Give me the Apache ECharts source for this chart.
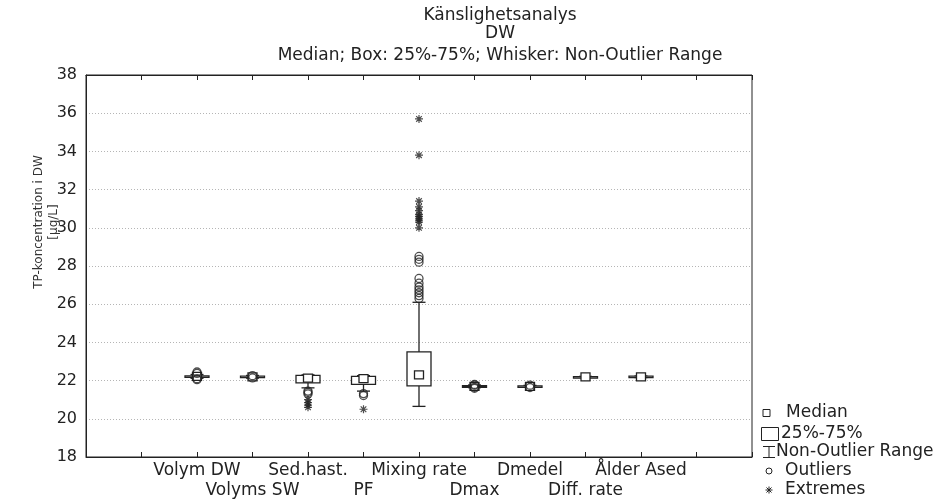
<!DOCTYPE html>
<html>
<head>
<meta charset="utf-8">
<script src="https://cdn.jsdelivr.net/npm/echarts@6/dist/echarts.min.js"></script>
<style>
html,body{margin:0;padding:0;background:#fff;}
#chart{width:942px;height:501px;}
</style>
</head>
<body>
<div id="chart"></div>
<script>
// ---- data ----
const categories = ['Volym DW','Volyms SW','Sed.hast.','PF','Mixing rate','Dmax','Dmedel','Diff. rate','Ålder Ased'];
const medians     = [22.22, 22.20, 22.13, 22.10, 22.30, 21.70, 21.70, 22.20, 22.20];
const q1          = [22.19, 22.17, 21.88, 21.80, 21.72, 21.67, 21.68, 22.19, 22.17];
const q3          = [22.25, 22.23, 22.27, 22.22, 23.50, 21.73, 21.72, 22.21, 22.23];
const whiskerLow  = [22.12, 22.13, 21.62, 21.45, 20.65, 21.63, 21.65, 22.18, 22.16];
const whiskerHigh = [22.32, 22.27, 22.30, 22.26, 26.10, 21.77, 21.75, 22.22, 22.24];
const outliers = [
  [22.05, 22.10, 22.38, 22.45],
  [22.14, 22.26],
  [21.30, 21.38, 21.45],
  [21.22, 21.32],
  [26.30, 26.45, 26.60, 26.75, 26.90, 27.10, 27.35, 28.20, 28.35, 28.50],
  [21.60, 21.65, 21.76, 21.80],
  [21.64, 21.76],
  [],
  []
];
const extremes = [
  [],
  [],
  [20.60, 20.72, 20.85, 21.00],
  [20.50],
  [30.00, 30.30, 30.40, 30.50, 30.60, 30.70, 30.90, 31.10, 31.40, 33.80, 35.70],
  [],
  [],
  [],
  []
];
const yTicks = {min: 18, max: 38, interval: 2};
const titleLines = ['Känslighetsanalys', 'DW', 'Median; Box: 25%-75%; Whisker: Non-Outlier Range'];
const yName = ['TP-koncentration i DW', '[µg/L]'];
const legendItems = ['Median', '25%-75%', 'Non-Outlier Range', 'Outliers', 'Extremes'];

// ---- build ----
const PAD = 2;
const axisCats = ['', ''].concat(categories, ['', '']);
const boxData = categories.map((c, i) => [i + PAD, whiskerLow[i], q1[i], medians[i], q3[i], whiskerHigh[i]]);
const outData = [], extData = [];
categories.forEach((c, i) => {
  outliers[i].forEach(v => outData.push([i + PAD, v]));
  extremes[i].forEach(v => extData.push([i + PAD, v]));
});

const FONT = 'DejaVu Sans';
const INK = '#222';
const asteriskPath = 'path://M5,0L5,10M0,5L10,5M1.5,1.5L8.5,8.5M8.5,1.5L1.5,8.5';

function renderBox(params, api) {
  const x = api.value(0);
  const pLo = api.coord([x, api.value(1)]);
  const pQ1 = api.coord([x, api.value(2)]);
  const pMed = api.coord([x, api.value(3)]);
  const pQ3 = api.coord([x, api.value(4)]);
  const pHi = api.coord([x, api.value(5)]);
  const cx = pMed[0];
  const bw = 24, cw = 13;
  const ls = {stroke: INK, lineWidth: 1.3};
  const boxH = Math.max(pQ1[1] - pQ3[1], 1.5);
  return {
    type: 'group',
    children: [
      {type: 'line', shape: {x1: cx, y1: pLo[1], x2: cx, y2: pHi[1]}, style: ls},
      {type: 'line', shape: {x1: cx - cw / 2, y1: pLo[1], x2: cx + cw / 2, y2: pLo[1]}, style: ls},
      {type: 'line', shape: {x1: cx - cw / 2, y1: pHi[1], x2: cx + cw / 2, y2: pHi[1]}, style: ls},
      {type: 'rect', shape: {x: cx - bw / 2, y: pQ3[1], width: bw, height: boxH}, style: {fill: '#fff', stroke: INK, lineWidth: 1.3}},
      {type: 'rect', shape: {x: cx - 4.5, y: pMed[1] - 4, width: 9, height: 8}, style: {fill: '#fff', stroke: INK, lineWidth: 1.3}}
    ]
  };
}

// legend graphics
const lgX = 768;
const lgRows = [413, 434, 452, 471, 490];
const lgTextX = [786, 781, 776, 785, 785];
const gl = (x1, y1, x2, y2) => ({type: 'line', shape: {x1, y1, x2, y2}, style: {stroke: INK, lineWidth: 1}});
const legendGraphics = [
  {type: 'rect', shape: {x: lgX - 5, y: lgRows[0] - 3.5, width: 7, height: 7}, style: {fill: '#fff', stroke: INK, lineWidth: 1}},
  {type: 'rect', shape: {x: lgX - 6.5, y: lgRows[1] - 6.5, width: 17, height: 13}, style: {fill: '#fff', stroke: INK, lineWidth: 1}},
  gl(lgX + 1, lgRows[2] - 5.5, lgX + 1, lgRows[2] + 5.5),
  gl(lgX - 5, lgRows[2] - 5.5, lgX + 7, lgRows[2] - 5.5),
  gl(lgX - 5, lgRows[2] + 5.5, lgX + 7, lgRows[2] + 5.5),
  {type: 'circle', shape: {cx: lgX + 1, cy: lgRows[3], r: 3}, style: {fill: 'none', stroke: INK, lineWidth: 1}},
  gl(lgX + 1, lgRows[4] - 3.5, lgX + 1, lgRows[4] + 3.5),
  gl(lgX - 2.5, lgRows[4], lgX + 4.5, lgRows[4]),
  gl(lgX - 1.5, lgRows[4] - 2.5, lgX + 3.5, lgRows[4] + 2.5),
  gl(lgX + 3.5, lgRows[4] - 2.5, lgX - 1.5, lgRows[4] + 2.5)
];
legendItems.forEach((t, i) => {
  legendGraphics.push({type: 'text', x: lgTextX[i], y: lgRows[i], style: {text: t, font: '17px "' + FONT + '"', fill: INK, textVerticalAlign: 'middle', textAlign: 'left'}});
});
// title
const titleY = [16, 34, 56];
titleLines.forEach((t, i) => {
  legendGraphics.push({type: 'text', x: 500, y: titleY[i], style: {text: t, font: '17px "' + FONT + '"', fill: INK, textAlign: 'center', textVerticalAlign: 'middle'}});
});
// y axis name
legendGraphics.push({type: 'text', x: 46, y: 222, rotation: Math.PI / 2, style: {text: yName.join('\n'), font: '12px "' + FONT + '"', fill: '#333', textAlign: 'center', textVerticalAlign: 'middle', lineHeight: 15}});

const chart = echarts.init(document.getElementById('chart'), null, {renderer: 'canvas'});
chart.setOption({
  animation: false,
  backgroundColor: '#fff',
  grid: {left: 86, right: 190, top: 75, bottom: 44, show: true, borderColor: INK, borderWidth: 1, backgroundColor: 'transparent'},
  xAxis: [
    {
      type: 'category', data: axisCats, boundaryGap: false,
      axisLine: {lineStyle: {color: INK}},
      axisTick: {inside: true, length: 5, interval: 0, lineStyle: {color: INK}},
      axisLabel: {interval: 0, margin: 4, color: INK, fontFamily: FONT, fontSize: 17, lineHeight: 20,
        formatter: (v, idx) => (idx % 2 === 1 ? '\n' + v : v)},
      splitLine: {show: false}
    },
    {
      type: 'category', data: axisCats, boundaryGap: false, position: 'top',
      axisLine: {lineStyle: {color: INK}},
      axisTick: {inside: true, length: 5, interval: 0, lineStyle: {color: INK}},
      axisLabel: {show: false},
      splitLine: {show: false}
    }
  ],
  yAxis: {
    type: 'value', min: yTicks.min, max: yTicks.max, interval: yTicks.interval,
    axisLine: {show: true, lineStyle: {color: INK}},
    axisTick: {show: false},
    axisLabel: {color: INK, fontFamily: FONT, fontSize: 16, margin: 9},
    splitLine: {show: true, lineStyle: {color: '#b5b5b5', type: [1, 2], width: 1}}
  },
  series: [
    {type: 'custom', name: 'box', data: boxData, renderItem: renderBox, encode: {x: 0, y: [1, 2, 3, 4, 5]}, z: 2},
    {type: 'scatter', name: 'Outliers', data: outData, symbol: 'circle', symbolSize: 8,
      itemStyle: {color: 'rgba(255,255,255,0)', borderColor: INK, borderWidth: 1.3}, z: 3},
    {type: 'scatter', name: 'Extremes', data: extData, symbol: asteriskPath, symbolSize: 8,
      itemStyle: {color: 'none', borderColor: INK, borderWidth: 1.2}, z: 3}
  ],
  graphic: legendGraphics
});
</script>
</body>
</html>
